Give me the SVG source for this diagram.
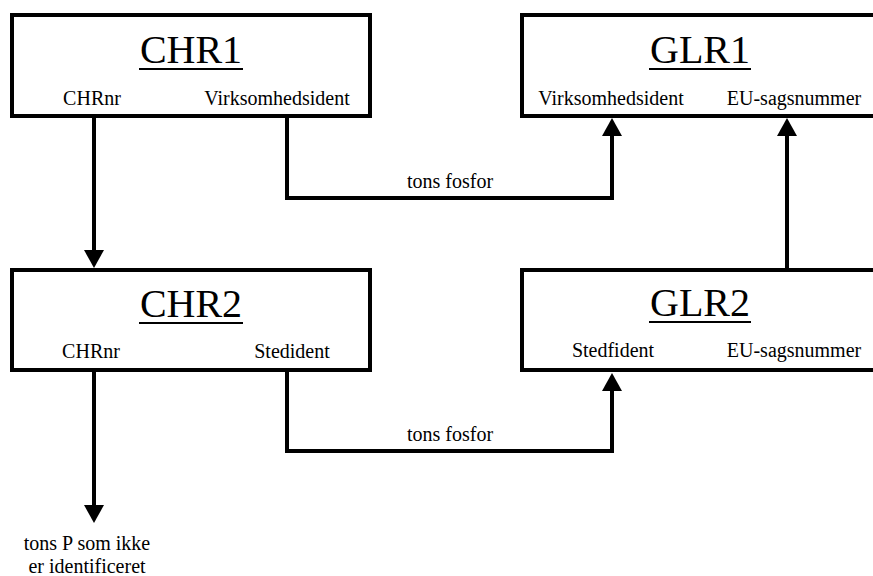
<svg xmlns="http://www.w3.org/2000/svg" width="873" height="576" viewBox="0 0 873 576">
  <style>
    .box { fill: #ffffff; stroke: #000000; stroke-width: 4; }
    .title { font-family: 'Liberation Serif', serif; font-size: 40px; text-anchor: middle; fill: #000; }
    .attr { font-family: 'Liberation Serif', serif; font-size: 20px; text-anchor: middle; fill: #000; }
    .ul { stroke: #000000; stroke-width: 2; }
    .conn { fill: none; stroke: #000000; stroke-width: 4; stroke-linejoin: miter; }
  </style>
  <defs>
    <marker id="arrow" markerUnits="userSpaceOnUse" markerWidth="20" markerHeight="20" refX="2" refY="10" orient="auto" viewBox="0 0 18 20">
      <path d="M0,0 L18,10 L0,20 z" fill="#000000"/>
    </marker>
  </defs>
  <rect width="873" height="576" fill="#ffffff"/>

  <g id="CHR1">
    <rect class="box" x="12" y="15" width="358" height="101"/>
    <text class="title" x="191" y="63">CHR1</text>
    <line class="ul" x1="139" y1="69" x2="243" y2="69"/>
    <text class="attr" x="92" y="105">CHRnr</text>
    <text class="attr" x="277" y="105">Virksomhedsident</text>
  </g>

  <g id="GLR1">
    <rect class="box" x="522" y="15" width="358" height="101"/>
    <text class="title" x="700" y="63">GLR1</text>
    <line class="ul" x1="649" y1="69" x2="751" y2="69"/>
    <text class="attr" x="611" y="105">Virksomhedsident</text>
    <text class="attr" x="794" y="105">EU-sagsnummer</text>
  </g>

  <g id="CHR2">
    <rect class="box" x="12" y="270" width="358" height="100"/>
    <text class="title" x="191" y="317">CHR2</text>
    <line class="ul" x1="139" y1="323" x2="243" y2="323"/>
    <text class="attr" x="91" y="358">CHRnr</text>
    <text class="attr" x="292" y="358">Stedident</text>
  </g>

  <g id="GLR2">
    <rect class="box" x="522" y="270" width="358" height="100"/>
    <text class="title" x="700" y="316">GLR2</text>
    <line class="ul" x1="649" y1="322" x2="751" y2="322"/>
    <text class="attr" x="613" y="357">Stedfident</text>
    <text class="attr" x="794" y="357">EU-sagsnummer</text>
  </g>

  <g id="connectors">
    <path class="conn" d="M94,118 V252" marker-end="url(#arrow)"/>
    <path class="conn" d="M287,118 V198 H612 V134" marker-end="url(#arrow)"/>
    <text class="attr" x="450" y="188">tons fosfor</text>
    <path class="conn" d="M787,268 V134" marker-end="url(#arrow)"/>
    <path class="conn" d="M287,372 V451 H612 V389" marker-end="url(#arrow)"/>
    <text class="attr" x="450" y="441">tons fosfor</text>
    <path class="conn" d="M94,372 V507" marker-end="url(#arrow)"/>
    <text class="attr" x="87" y="550">tons P som ikke</text>
    <text class="attr" x="87" y="573">er identificeret</text>
  </g>
</svg>
